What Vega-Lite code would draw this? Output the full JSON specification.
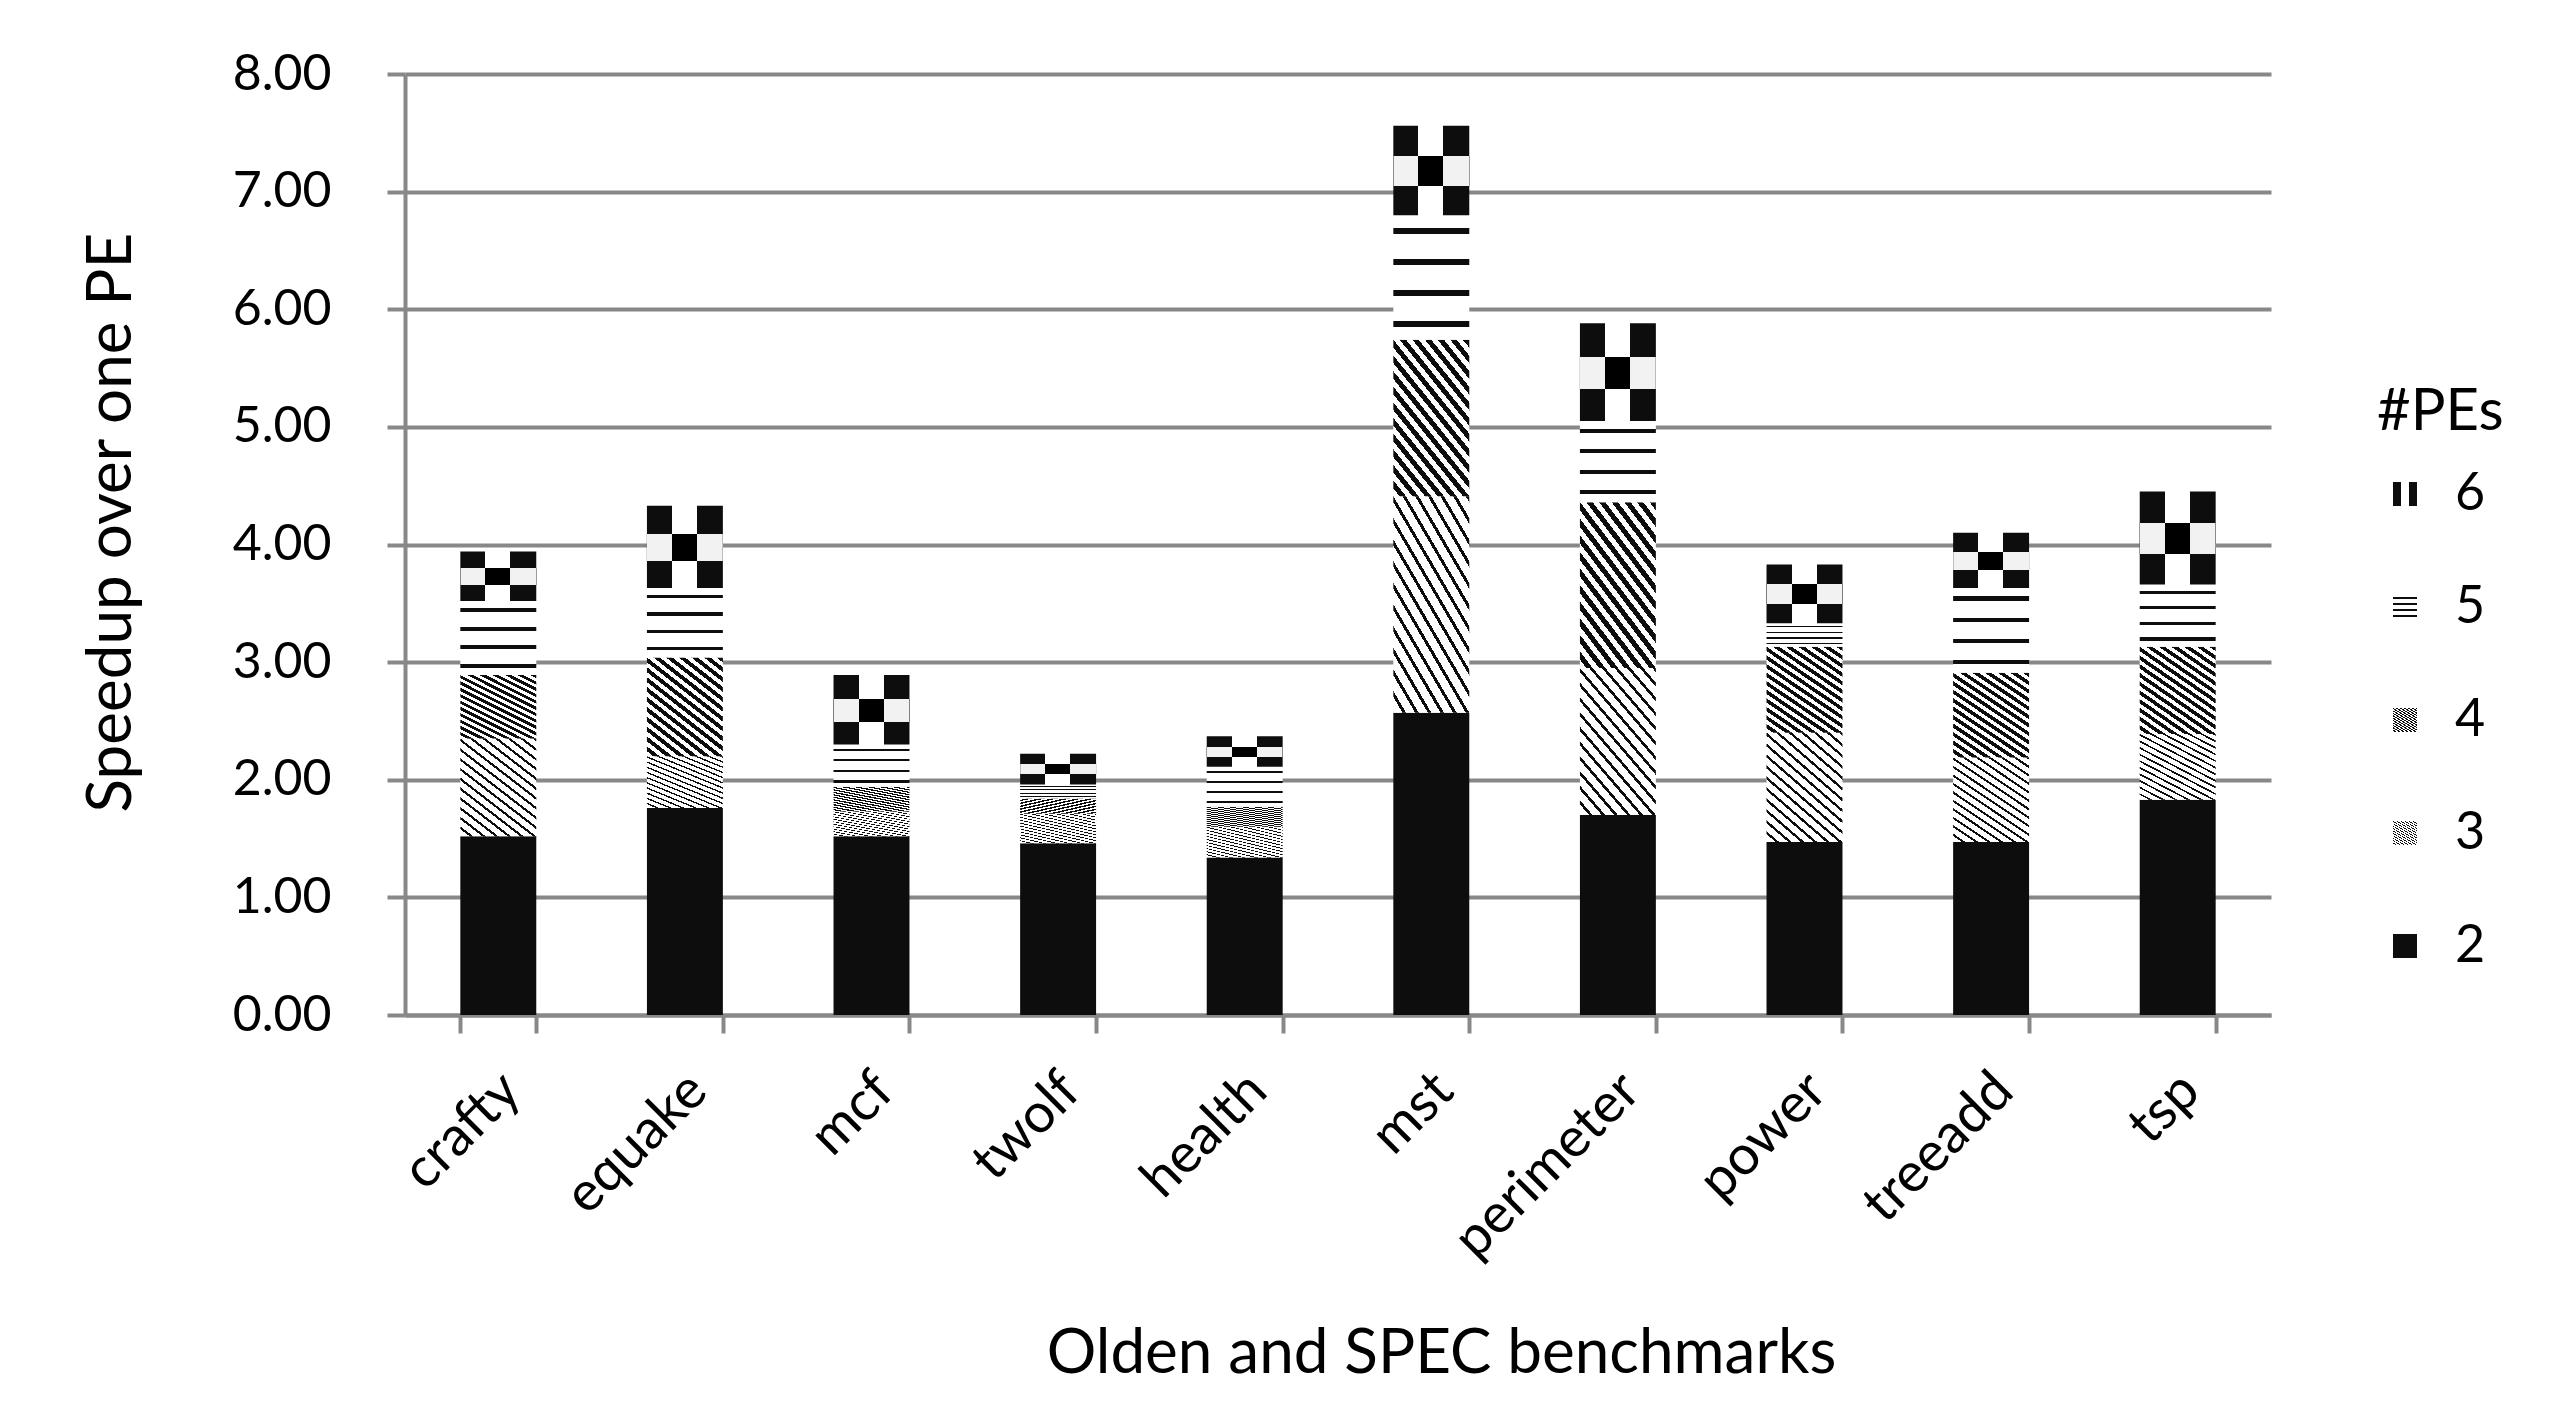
{
  "$schema": "https://vega.github.io/schema/vega-lite/v6.json",
  "width": 1866,
  "height": 941,
  "autosize": {"type": "none"},
  "padding": {"left": 405, "top": 74, "right": 291, "bottom": 412},
  "background": "white",
  "config": {"view": {"stroke": null}, "font": "Lato"},
  "data": {
    "values": [
      {"benchmark": "crafty", "pes": 2, "gain": 1.52},
      {"benchmark": "crafty", "pes": 3, "gain": 0.83},
      {"benchmark": "crafty", "pes": 4, "gain": 0.54},
      {"benchmark": "crafty", "pes": 5, "gain": 0.63},
      {"benchmark": "crafty", "pes": 6, "gain": 0.42},
      {"benchmark": "equake", "pes": 2, "gain": 1.76},
      {"benchmark": "equake", "pes": 3, "gain": 0.44},
      {"benchmark": "equake", "pes": 4, "gain": 0.84},
      {"benchmark": "equake", "pes": 5, "gain": 0.59},
      {"benchmark": "equake", "pes": 6, "gain": 0.70},
      {"benchmark": "mcf", "pes": 2, "gain": 1.52},
      {"benchmark": "mcf", "pes": 3, "gain": 0.21},
      {"benchmark": "mcf", "pes": 4, "gain": 0.21},
      {"benchmark": "mcf", "pes": 5, "gain": 0.36},
      {"benchmark": "mcf", "pes": 6, "gain": 0.59},
      {"benchmark": "twolf", "pes": 2, "gain": 1.46},
      {"benchmark": "twolf", "pes": 3, "gain": 0.25},
      {"benchmark": "twolf", "pes": 4, "gain": 0.13},
      {"benchmark": "twolf", "pes": 5, "gain": 0.12},
      {"benchmark": "twolf", "pes": 6, "gain": 0.26},
      {"benchmark": "health", "pes": 2, "gain": 1.34},
      {"benchmark": "health", "pes": 3, "gain": 0.26},
      {"benchmark": "health", "pes": 4, "gain": 0.17},
      {"benchmark": "health", "pes": 5, "gain": 0.34},
      {"benchmark": "health", "pes": 6, "gain": 0.26},
      {"benchmark": "mst", "pes": 2, "gain": 2.57},
      {"benchmark": "mst", "pes": 3, "gain": 1.84},
      {"benchmark": "mst", "pes": 4, "gain": 1.33},
      {"benchmark": "mst", "pes": 5, "gain": 1.06},
      {"benchmark": "mst", "pes": 6, "gain": 0.76},
      {"benchmark": "perimeter", "pes": 2, "gain": 1.70},
      {"benchmark": "perimeter", "pes": 3, "gain": 1.25},
      {"benchmark": "perimeter", "pes": 4, "gain": 1.41},
      {"benchmark": "perimeter", "pes": 5, "gain": 0.69},
      {"benchmark": "perimeter", "pes": 6, "gain": 0.83},
      {"benchmark": "power", "pes": 2, "gain": 1.47},
      {"benchmark": "power", "pes": 3, "gain": 0.93},
      {"benchmark": "power", "pes": 4, "gain": 0.73},
      {"benchmark": "power", "pes": 5, "gain": 0.20},
      {"benchmark": "power", "pes": 6, "gain": 0.50},
      {"benchmark": "treeadd", "pes": 2, "gain": 1.47},
      {"benchmark": "treeadd", "pes": 3, "gain": 0.72},
      {"benchmark": "treeadd", "pes": 4, "gain": 0.72},
      {"benchmark": "treeadd", "pes": 5, "gain": 0.72},
      {"benchmark": "treeadd", "pes": 6, "gain": 0.47},
      {"benchmark": "tsp", "pes": 2, "gain": 1.83},
      {"benchmark": "tsp", "pes": 3, "gain": 0.56},
      {"benchmark": "tsp", "pes": 4, "gain": 0.74},
      {"benchmark": "tsp", "pes": 5, "gain": 0.53},
      {"benchmark": "tsp", "pes": 6, "gain": 0.79}
    ]
  },
  "encoding": {
    "x": {
      "field": "benchmark",
      "type": "nominal",
      "sort": ["crafty", "equake", "mcf", "twolf", "health", "mst", "perimeter", "power", "treeadd", "tsp"],
      "scale": {"paddingInner": 0.593, "paddingOuter": 0.2965},
      "axis": {
        "title": "Olden and SPEC benchmarks",
        "titleFontSize": 62,
        "titleFontWeight": "normal",
        "titleColor": "black",
        "titleX": 1036,
        "titleY": 357,
        "titleBaseline": "alphabetic",
        "titleAlign": "center",
        "labelAngle": -45,
        "labelFontSize": 55,
        "labelLimit": 0,
        "labelColor": "black",
        "labelPadding": 30,
        "labelOffset": -6,
        "tickBand": "extent",
        "tickColor": "#888888",
        "tickWidth": 4,
        "tickSize": 18,
        "domainColor": "#888888",
        "domainWidth": 4,
        "grid": false
      }
    },
    "y": {
      "field": "gain",
      "type": "quantitative",
      "stack": "zero",
      "scale": {"domain": [0, 8], "nice": false},
      "axis": {
        "title": "Speedup over one PE",
        "titleFontSize": 62,
        "titleFontWeight": "normal",
        "titleColor": "black",
        "titleAngle": -90,
        "titleX": -294,
        "titleY": 448,
        "titleBaseline": "middle",
        "titleAlign": "center",
        "values": [0, 1, 2, 3, 4, 5, 6, 7, 8],
        "format": ".2f",
        "labelFontSize": 50,
        "labelColor": "black",
        "labelPadding": 56,
        "tickColor": "#888888",
        "tickWidth": 4,
        "tickSize": 18,
        "domainColor": "#888888",
        "domainWidth": 4,
        "grid": true,
        "gridColor": "#888888",
        "gridWidth": 4
      }
    },
    "order": {"field": "pes", "type": "quantitative", "sort": "ascending"},
    "detail": {"field": "pes", "type": "nominal"}
  },
  "layer": [
    {
      "mark": {"type": "bar", "strokeWidth": 0},
      "encoding": {
        "fill": {
          "field": "pes",
          "type": "nominal",
          "scale": {
            "domain": [6, 5, 4, 3, 2],
            "range": [
              {"expr": "{gradient:'linear',x1:0,y1:0,x2:1,y2:0,stops:[{offset:0,color:'#0d0d0d'},{offset:0.33,color:'#0d0d0d'},{offset:0.33,color:'#ffffff'},{offset:0.66,color:'#ffffff'},{offset:0.66,color:'#0d0d0d'},{offset:1,color:'#0d0d0d'}]}"},
              {"expr": "{gradient:'linear',x1:0,y1:0,x2:0,y2:1,stops:[{offset:0,color:'#ffffff'},{offset:0.1,color:'#ffffff'},{offset:0.1,color:'#0d0d0d'},{offset:0.15,color:'#0d0d0d'},{offset:0.15,color:'#ffffff'},{offset:0.35,color:'#ffffff'},{offset:0.35,color:'#0d0d0d'},{offset:0.4,color:'#0d0d0d'},{offset:0.4,color:'#ffffff'},{offset:0.6,color:'#ffffff'},{offset:0.6,color:'#0d0d0d'},{offset:0.65,color:'#0d0d0d'},{offset:0.65,color:'#ffffff'},{offset:0.85,color:'#ffffff'},{offset:0.85,color:'#0d0d0d'},{offset:0.9,color:'#0d0d0d'},{offset:0.9,color:'#ffffff'},{offset:1,color:'#ffffff'}]}"},
              {"expr": "{gradient:'linear',x1:1,y1:0,x2:0.294,y2:1.176,stops:[{offset:0,color:'#0d0d0d'},{offset:0.03125,color:'#0d0d0d'},{offset:0.03125,color:'#ffffff'},{offset:0.0625,color:'#ffffff'},{offset:0.0625,color:'#0d0d0d'},{offset:0.09375,color:'#0d0d0d'},{offset:0.09375,color:'#ffffff'},{offset:0.125,color:'#ffffff'},{offset:0.125,color:'#0d0d0d'},{offset:0.15625,color:'#0d0d0d'},{offset:0.15625,color:'#ffffff'},{offset:0.1875,color:'#ffffff'},{offset:0.1875,color:'#0d0d0d'},{offset:0.21875,color:'#0d0d0d'},{offset:0.21875,color:'#ffffff'},{offset:0.25,color:'#ffffff'},{offset:0.25,color:'#0d0d0d'},{offset:0.28125,color:'#0d0d0d'},{offset:0.28125,color:'#ffffff'},{offset:0.3125,color:'#ffffff'},{offset:0.3125,color:'#0d0d0d'},{offset:0.34375,color:'#0d0d0d'},{offset:0.34375,color:'#ffffff'},{offset:0.375,color:'#ffffff'},{offset:0.375,color:'#0d0d0d'},{offset:0.40625,color:'#0d0d0d'},{offset:0.40625,color:'#ffffff'},{offset:0.4375,color:'#ffffff'},{offset:0.4375,color:'#0d0d0d'},{offset:0.46875,color:'#0d0d0d'},{offset:0.46875,color:'#ffffff'},{offset:0.5,color:'#ffffff'},{offset:0.5,color:'#0d0d0d'},{offset:0.53125,color:'#0d0d0d'},{offset:0.53125,color:'#ffffff'},{offset:0.5625,color:'#ffffff'},{offset:0.5625,color:'#0d0d0d'},{offset:0.59375,color:'#0d0d0d'},{offset:0.59375,color:'#ffffff'},{offset:0.625,color:'#ffffff'},{offset:0.625,color:'#0d0d0d'},{offset:0.65625,color:'#0d0d0d'},{offset:0.65625,color:'#ffffff'},{offset:0.6875,color:'#ffffff'},{offset:0.6875,color:'#0d0d0d'},{offset:0.71875,color:'#0d0d0d'},{offset:0.71875,color:'#ffffff'},{offset:0.75,color:'#ffffff'},{offset:0.75,color:'#0d0d0d'},{offset:0.78125,color:'#0d0d0d'},{offset:0.78125,color:'#ffffff'},{offset:0.8125,color:'#ffffff'},{offset:0.8125,color:'#0d0d0d'},{offset:0.84375,color:'#0d0d0d'},{offset:0.84375,color:'#ffffff'},{offset:0.875,color:'#ffffff'},{offset:0.875,color:'#0d0d0d'},{offset:0.90625,color:'#0d0d0d'},{offset:0.90625,color:'#ffffff'},{offset:0.9375,color:'#ffffff'},{offset:0.9375,color:'#0d0d0d'},{offset:0.96875,color:'#0d0d0d'},{offset:0.96875,color:'#ffffff'},{offset:1,color:'#ffffff'}]}"},
              {"expr": "{gradient:'linear',x1:1,y1:0,x2:0.294,y2:1.176,stops:[{offset:0,color:'#0d0d0d'},{offset:0.0175,color:'#0d0d0d'},{offset:0.0175,color:'#ffffff'},{offset:0.0625,color:'#ffffff'},{offset:0.0625,color:'#0d0d0d'},{offset:0.08,color:'#0d0d0d'},{offset:0.08,color:'#ffffff'},{offset:0.125,color:'#ffffff'},{offset:0.125,color:'#0d0d0d'},{offset:0.1425,color:'#0d0d0d'},{offset:0.1425,color:'#ffffff'},{offset:0.1875,color:'#ffffff'},{offset:0.1875,color:'#0d0d0d'},{offset:0.205,color:'#0d0d0d'},{offset:0.205,color:'#ffffff'},{offset:0.25,color:'#ffffff'},{offset:0.25,color:'#0d0d0d'},{offset:0.2675,color:'#0d0d0d'},{offset:0.2675,color:'#ffffff'},{offset:0.3125,color:'#ffffff'},{offset:0.3125,color:'#0d0d0d'},{offset:0.33,color:'#0d0d0d'},{offset:0.33,color:'#ffffff'},{offset:0.375,color:'#ffffff'},{offset:0.375,color:'#0d0d0d'},{offset:0.3925,color:'#0d0d0d'},{offset:0.3925,color:'#ffffff'},{offset:0.4375,color:'#ffffff'},{offset:0.4375,color:'#0d0d0d'},{offset:0.455,color:'#0d0d0d'},{offset:0.455,color:'#ffffff'},{offset:0.5,color:'#ffffff'},{offset:0.5,color:'#0d0d0d'},{offset:0.5175,color:'#0d0d0d'},{offset:0.5175,color:'#ffffff'},{offset:0.5625,color:'#ffffff'},{offset:0.5625,color:'#0d0d0d'},{offset:0.58,color:'#0d0d0d'},{offset:0.58,color:'#ffffff'},{offset:0.625,color:'#ffffff'},{offset:0.625,color:'#0d0d0d'},{offset:0.6425,color:'#0d0d0d'},{offset:0.6425,color:'#ffffff'},{offset:0.6875,color:'#ffffff'},{offset:0.6875,color:'#0d0d0d'},{offset:0.705,color:'#0d0d0d'},{offset:0.705,color:'#ffffff'},{offset:0.75,color:'#ffffff'},{offset:0.75,color:'#0d0d0d'},{offset:0.7675,color:'#0d0d0d'},{offset:0.7675,color:'#ffffff'},{offset:0.8125,color:'#ffffff'},{offset:0.8125,color:'#0d0d0d'},{offset:0.83,color:'#0d0d0d'},{offset:0.83,color:'#ffffff'},{offset:0.875,color:'#ffffff'},{offset:0.875,color:'#0d0d0d'},{offset:0.8925,color:'#0d0d0d'},{offset:0.8925,color:'#ffffff'},{offset:0.9375,color:'#ffffff'},{offset:0.9375,color:'#0d0d0d'},{offset:0.955,color:'#0d0d0d'},{offset:0.955,color:'#ffffff'},{offset:1,color:'#ffffff'}]}"},
              "#0d0d0d"
            ]
          },
          "legend": {
            "title": "#PEs",
            "orient": "none",
            "legendX": 1972,
            "legendY": 310,
            "direction": "vertical",
            "titleFontSize": 58,
            "titleFontWeight": "normal",
            "titleColor": "black",
            "titlePadding": 26,
            "labelFontSize": 52,
            "labelColor": "black",
            "labelOffset": 24,
            "symbolType": "square",
            "symbolSize": 576,
            "symbolStrokeWidth": 0,
            "symbolOffset": 2,
            "rowPadding": 61
          }
        }
      }
    },
    {
      "mark": {"type": "bar", "strokeWidth": 0, "blend": "difference"},
      "encoding": {
        "fill": {
          "condition": {
            "test": "datum.pes === 6",
            "value": {"gradient": "linear", "x1": 0, "y1": 0, "x2": 0, "y2": 1, "stops": [
              {"offset": 0, "color": "rgba(255,255,255,0)"},
              {"offset": 0.34, "color": "rgba(255,255,255,0)"},
              {"offset": 0.34, "color": "#ffffff"},
              {"offset": 0.67, "color": "#ffffff"},
              {"offset": 0.67, "color": "rgba(255,255,255,0)"},
              {"offset": 1, "color": "rgba(255,255,255,0)"}
            ]}
          },
          "value": "transparent"
        }
      }
    }
  ]
}
